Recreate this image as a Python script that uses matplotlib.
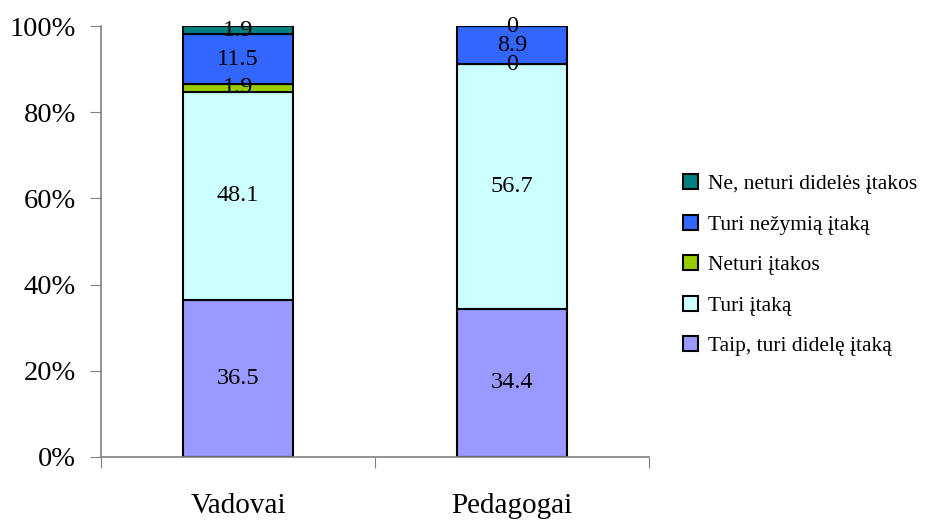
import matplotlib.pyplot as plt
import numpy as np

plt.rcParams['font.family'] = ['Liberation Serif', 'DejaVu Serif']

groups = ['Vadovai', 'Pedagogai']
series = ['Taip, turi didelę įtaką', 'Turi įtaką', 'Neturi įtakos',
          'Turi nežymią įtaką', 'Ne, neturi didelės įtakos']
taip = [36.5, 34.4]
turi = [48.1, 56.7]
neturi = [1.9, 0]
nezymia = [11.5, 8.9]
ne_didel = [1.9, 0]
colors = ['#9999FF', '#CCFFFF', '#99CC00', '#3366FF', '#008080']

values = np.array([taip, turi, neturi, nezymia, ne_didel])
shares = values / values.sum(axis=0)

fig = plt.figure(figsize=(9.37, 5.2), dpi=100)
ax = fig.add_axes([0.1078, 0.1212, 0.5848, 0.8288])

x = np.arange(len(groups))
bottom = np.zeros(len(groups))
handles = []
for i, name in enumerate(series):
    bars = ax.bar(x, shares[i], 0.4, bottom=bottom, color=colors[i],
                  edgecolor='black', linewidth=1.5, label=name)
    handles.append(bars)
    for j in range(len(groups)):
        v = values[i, j]
        txt = f'{v:g}' if v != 0 else '0'
        ax.text(x[j], bottom[j] + shares[i, j] / 2, txt,
                ha='center', va='center', fontsize=17.5)
    bottom += shares[i]

ax.set_xlim(-0.5, 1.5)
ax.set_ylim(0, 1)
ax.set_yticks(np.arange(0, 1.01, 0.2))
ax.set_yticklabels([f'{int(t * 100)}%' for t in np.arange(0, 1.01, 0.2)], fontsize=20.5)
ax.set_xticks([-0.5, 0.5, 1.5], minor=False)
ax.set_xticklabels([])
ax.set_xticks(x, minor=True)
ax.set_xticklabels(groups, minor=True, fontsize=21)
ax.tick_params(axis='x', which='minor', length=0, pad=26)
ax.tick_params(axis='x', which='major', length=8, color='#808080')
ax.tick_params(axis='y', length=8, color='#808080', pad=10)
for s in ['top', 'right']:
    ax.spines[s].set_visible(False)
for s in ['left', 'bottom']:
    ax.spines[s].set_color('#808080')
    ax.spines[s].set_linewidth(1.2)

leg = fig.legend(handles[::-1], series[::-1], loc='center left',
                 bbox_to_anchor=(0.708, 0.49), frameon=False, fontsize=15.5,
                 handlelength=0.7, handleheight=0.7, handletextpad=0.45,
                 labelspacing=0.95)

fig.savefig('out.png', dpi=100)
